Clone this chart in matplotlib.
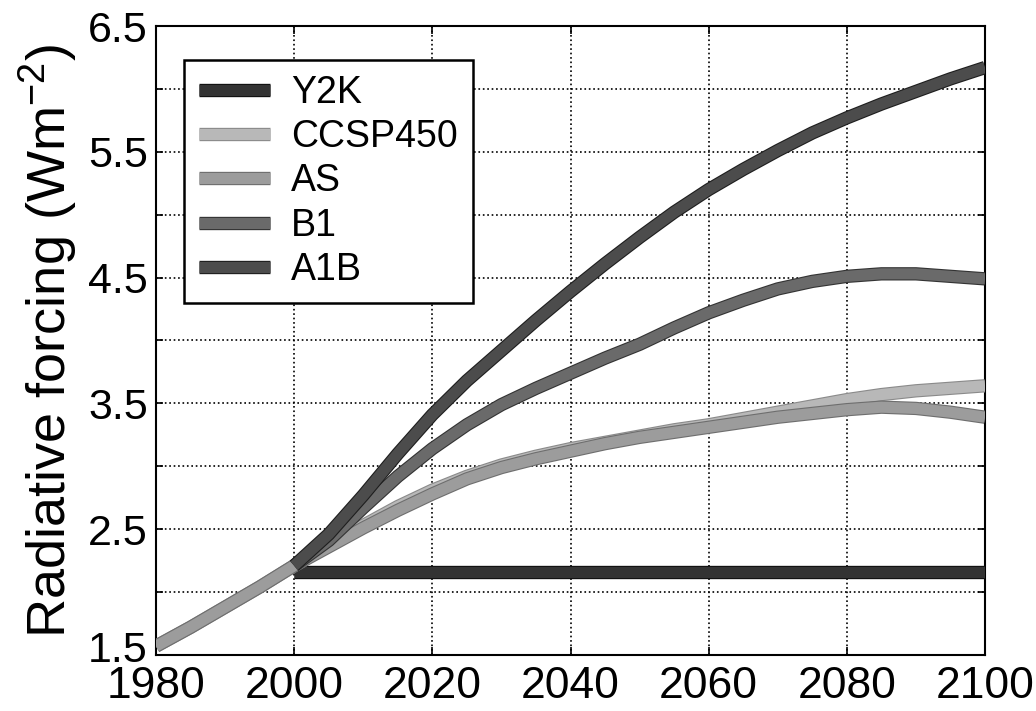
import numpy as np
import matplotlib
matplotlib.use("Agg")
import matplotlib.pyplot as plt
import matplotlib.patheffects as pe
import matplotlib.transforms as mtransforms

plt.rcParams['font.family'] = ['Liberation Sans', 'DejaVu Sans']
plt.rcParams['mathtext.fontset'] = 'custom'
plt.rcParams['mathtext.rm'] = 'Liberation Sans'
plt.rcParams['mathtext.it'] = 'Liberation Sans'

# Data (W m-2)
years_hist = [1980, 1985, 1990, 1995, 2000]
hist = [1.57, 1.72, 1.88, 2.04, 2.21]

years = [2000, 2005, 2010, 2015, 2020, 2025, 2030, 2035, 2040, 2045, 2050,
         2055, 2060, 2065, 2070, 2075, 2080, 2085, 2090, 2095, 2100]
a1b = [2.21, 2.46, 2.77, 3.10, 3.41, 3.68, 3.92, 4.16, 4.39, 4.61, 4.82,
       5.02, 5.20, 5.36, 5.51, 5.65, 5.77, 5.88, 5.98, 6.08, 6.17]
b1 = [2.21, 2.41, 2.67, 2.92, 3.14, 3.33, 3.49, 3.62, 3.74, 3.86, 3.97,
      4.10, 4.22, 4.32, 4.41, 4.47, 4.51, 4.53, 4.53, 4.51, 4.49]
ccsp450 = [2.21, 2.37, 2.53, 2.68, 2.81, 2.92, 3.01, 3.08, 3.14, 3.19, 3.24,
           3.29, 3.33, 3.38, 3.43, 3.48, 3.53, 3.57, 3.60, 3.62, 3.64]
as_ = [2.21, 2.36, 2.51, 2.65, 2.78, 2.90, 2.99, 3.06, 3.12, 3.18, 3.23,
       3.27, 3.31, 3.35, 3.39, 3.42, 3.45, 3.47, 3.46, 3.43, 3.39]
y2k_years = [2000, 2100]
y2k = [2.16, 2.16]

fig = plt.figure(figsize=(10.36, 7.11), dpi=100)
ax = fig.add_axes([0.1506, 0.0788, 0.8002, 0.8846])

lw = 8


def band(x, y, color, edge, label):
    ax.plot(x, y, color=color, lw=lw, solid_capstyle='butt',
            solid_joinstyle='round', label=label, zorder=3,
            path_effects=[pe.Stroke(linewidth=lw + 1.6, foreground=edge),
                          pe.Normal()])


band(y2k_years, y2k, '#333333', '#111111', 'Y2K')
band(years_hist + years[1:], hist + ccsp450[1:], '#b8b8b8', '#8a8a8a', 'CCSP450')
band(years_hist + years[1:], hist + as_[1:], '#9c9c9c', '#6e6e6e', 'AS')
band(years, b1, '#6a6a6a', '#333333', 'B1')
band(years, a1b, '#4c4c4c', '#1e1e1e', 'A1B')

ax.set_xlim(1980, 2100)
ax.set_ylim(1.5, 6.5)
ax.set_xticks(range(1980, 2101, 20))
yt = np.arange(1.5, 6.51, 0.5)
ax.set_yticks(yt)
ax.set_yticklabels([f'{v:.1f}' if abs((v - 1.5) % 1) < 1e-6 else '' for v in yt])
ax.tick_params(axis='y', labelsize=31, direction='in', right=True,
               length=5, width=1.2, pad=6)
ax.tick_params(axis='x', labelsize=32, direction='in', top=True,
               length=6, width=1.2, pad=8)
ax.grid(True, linestyle=':', color='black', linewidth=1.2)
for s in ax.spines.values():
    s.set_linewidth(1.5)

# nudge the bottom "1.5" up a little so it clears "1980"
lab0 = ax.get_yticklabels()[0]
lab0.set_transform(lab0.get_transform() +
                   mtransforms.ScaledTranslation(0, 6 / 72, fig.dpi_scale_trans))

ax.set_ylabel('Radiative forcing (Wm$^{-2}$)', fontsize=39, labelpad=6)

leg = ax.legend(loc='upper left', bbox_to_anchor=(0.034, 0.946),
                borderaxespad=0, fontsize=27,
                handlelength=1.9, handletextpad=0.55, labelspacing=0.22,
                fancybox=False, edgecolor='black', framealpha=1,
                borderpad=0.4)
leg.get_frame().set_linewidth(1.8)

fig.savefig('out.png', dpi=100)
